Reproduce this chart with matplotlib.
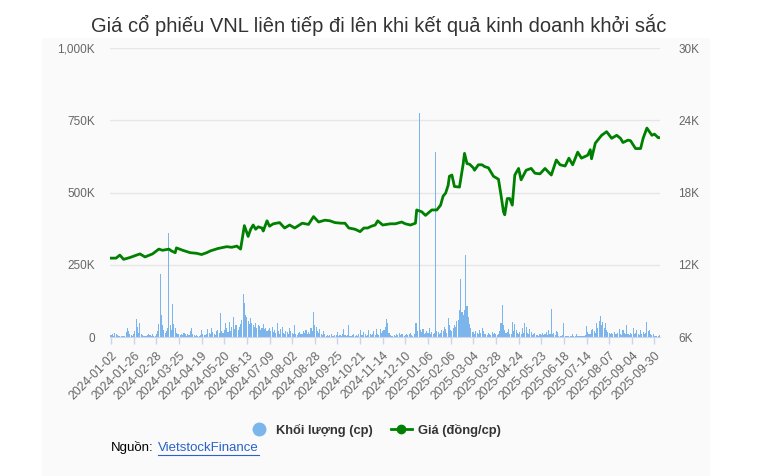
import numpy as np
import matplotlib
matplotlib.use("Agg")
import matplotlib.pyplot as plt
from matplotlib.lines import Line2D
from matplotlib.patches import Rectangle

plt.rcParams['font.family'] = ['Liberation Sans', 'DejaVu Sans']

title = "Giá cổ phiếu VNL liên tiếp đi lên khi kết quả kinh doanh khởi sắc"

date_labels = ["2024-01-02", "2024-01-26", "2024-02-28", "2024-03-25", "2024-04-19",
               "2024-05-20", "2024-06-13", "2024-07-09", "2024-08-02", "2024-08-28",
               "2024-09-25", "2024-10-21", "2024-11-14", "2024-12-10", "2025-01-06",
               "2025-02-06", "2025-03-04", "2025-03-28", "2025-04-24", "2025-05-23",
               "2025-06-18", "2025-07-14", "2025-08-07", "2025-09-04", "2025-09-30"]

# daily volume, thousand shares (18 sessions per row)
vol_k = [
    8, 12, 5, 14, 10, 6, 4, 3, 5, 2, 4, 3, 18, 30, 22, 12, 8, 4,
    10, 20, 61, 35, 15, 50, 12, 6, 4, 3, 5, 8, 12, 6, 4, 10, 3, 5,
    12, 20, 45, 218, 76, 40, 25, 15, 20, 30, 361, 40, 25, 114, 45, 30, 15, 10,
    12, 8, 10, 6, 14, 9, 5, 12, 8, 20, 30, 12, 6, 4, 8, 5, 3, 6,
    24, 10, 6, 8, 12, 27, 15, 10, 30, 18, 12, 8, 20, 25, 15, 82, 20, 14,
    25, 47, 30, 18, 53, 22, 35, 70, 28, 40, 42, 25, 35, 45, 60, 148, 118, 75,
    70, 55, 45, 66, 50, 40, 35, 48, 30, 42, 38, 25, 30, 45, 28, 32, 20, 25,
    30, 22, 35, 18, 25, 15, 47, 20, 12, 28, 36, 15, 10, 22, 18, 12, 32, 20,
    15, 10, 40, 12, 8, 15, 18, 10, 12, 20, 14, 25, 10, 18, 12, 30, 20, 88,
    40, 35, 20, 15, 27, 12, 8, 20, 10, 5, 8, 4, 6, 10, 5, 3, 8, 6,
    18, 5, 8, 4, 10, 27, 6, 4, 8, 40, 5, 3, 6, 10, 4, 8, 5, 12,
    25, 8, 6, 18, 10, 5, 8, 25, 12, 6, 10, 22, 8, 27, 10, 6, 27, 15,
    20, 25, 35, 61, 47, 15, 8, 5, 4, 6, 3, 12, 8, 14, 6, 10, 12, 5,
    8, 12, 6, 10, 14, 8, 5, 10, 50, 47, 20, 774, 25, 18, 27, 12, 15, 20,
    15, 30, 12, 18, 10, 15, 641, 20, 18, 10, 15, 25, 20, 36, 28, 15, 65, 40,
    25, 20, 30, 40, 35, 57, 60, 93, 200, 88, 75, 95, 284, 107, 70, 45, 30, 18,
    18, 12, 20, 15, 10, 25, 15, 30, 20, 12, 10, 8, 14, 10, 6, 18, 12, 15,
    10, 8, 12, 20, 50, 111, 40, 25, 15, 18, 27, 12, 10, 53, 20, 46, 25, 15,
    12, 18, 10, 30, 14, 50, 36, 15, 10, 27, 18, 8, 10, 15, 6, 8, 5, 10,
    8, 15, 6, 10, 18, 8, 25, 12, 96, 10, 15, 6, 22, 18, 5, 4, 3, 6,
    50, 4, 3, 2, 5, 3, 4, 10, 3, 2, 12, 4, 3, 2, 5, 3, 4, 8,
    38, 18, 12, 10, 25, 27, 20, 15, 47, 30, 57, 73, 40, 53, 30, 47, 25, 18,
    15, 10, 15, 12, 18, 10, 12, 15, 27, 12, 8, 25, 15, 10, 40, 12, 8, 15,
    10, 30, 12, 15, 25, 10, 8, 25, 12, 18, 10, 15, 53, 20, 25, 12, 8, 10,
    3, 2, 4, 3, 6,
]

# closing price (dong) at session index
price_idx = [0, 4, 7, 10, 15, 23, 27, 33, 38, 41,
             46, 48, 51, 52, 57, 63, 68, 72, 76, 79,
             85, 92, 96, 100, 103, 106, 109, 111, 113, 115,
             117, 120, 121, 124, 126, 129, 134, 138, 142, 146,
             152, 157, 161, 165, 170, 174, 178, 183, 186, 189,
             194, 198, 201, 204, 207, 210, 212, 216, 222, 226,
             231, 234, 238, 242, 243, 247, 250, 255, 259, 262,
             264, 266, 268, 269, 271, 273, 277, 280, 281, 283,
             285, 288, 289, 292, 295, 297, 300, 304, 308, 309,
             310, 312, 313, 315, 317, 319, 321, 324, 326, 330,
             334, 337, 341, 345, 350, 354, 357, 361, 364, 367,
             371, 374, 379, 381, 382, 385, 390, 394, 398, 402,
             405, 407, 411, 413, 417, 421, 423, 426, 430, 432,
             435, 436]
price_val = [12550, 12550, 12800, 12450, 12600, 12900, 12650, 12900, 13300, 13200,
             13300, 13150, 13000, 13400, 13200, 13000, 12950, 12850, 13000, 13150,
             13350, 13500, 13450, 13550, 13300, 15250, 14350, 14950, 15300, 14950,
             15150, 15050, 14800, 15650, 15200, 15400, 15500, 15050, 15300, 15050,
             15450, 15350, 16000, 15550, 15700, 15650, 15500, 15450, 15450, 15050,
             14950, 14750, 15050, 15050, 15200, 15300, 15650, 15300, 15400, 15400,
             15550, 15400, 15300, 15450, 16550, 16400, 16100, 16550, 16550, 16950,
             17700, 17950, 18600, 19350, 19450, 18500, 18450, 20400, 21250, 20400,
             20350, 20050, 19850, 20300, 20300, 20150, 20050, 19350, 19100, 18450,
             17800, 16400, 16150, 17500, 17500, 16950, 19450, 20000, 19050, 19850,
             20000, 19600, 19550, 20000, 19450, 20700, 20300, 20200, 20850, 20300,
             21350, 20850, 21100, 21550, 20800, 22100, 22750, 23050, 22500, 22750,
             22500, 22150, 22350, 22300, 21650, 21650, 22500, 23350, 22750, 22850,
             22550, 22550]

vol_ticks = [0, 250000, 500000, 750000, 1000000]
vol_tick_labels = ["0", "250K", "500K", "750K", "1,000K"]
price_ticks = [6000, 12000, 18000, 24000, 30000]
price_tick_labels = ["6K", "12K", "18K", "24K", "30K"]

volume = np.array(vol_k) * 1000
n = len(volume)
W, H = 765, 476

fig = plt.figure(figsize=(W / 100, H / 100), dpi=100)
fig.patch.set_facecolor('white')
fig.patches.append(Rectangle((42 / W, 0), (710 - 42) / W, (H - 38) / H,
                             transform=fig.transFigure, facecolor='#fafafa',
                             edgecolor='none', zorder=-10))

ax = fig.add_axes([110.4 / W, (H - 337) / H, 549.7 / W, 289 / H])
ax.set_facecolor('none')
ax.bar(np.arange(n), volume, width=0.85, color='#7cb5ec', linewidth=0, zorder=2,
       antialiased=False)
ax.set_xlim(-0.5, n - 0.5)
ax.set_ylim(0, 1000000)
ax.set_yticks(vol_ticks)
ax.set_yticklabels(vol_tick_labels)
ax.yaxis.grid(True, color='#e6e6e6', linewidth=1)
ax.set_axisbelow(True)
ax.tick_params(axis='y', length=0, pad=11, labelsize=8.5, labelcolor='#666666')
ax.set_xticks(np.arange(0, n, 18)[:len(date_labels)])
ax.set_xticklabels(date_labels, rotation=45, ha='right', rotation_mode='anchor')
ax.tick_params(axis='x', length=5, color='#ccd6eb', width=1, pad=4,
               labelsize=8.8, labelcolor='#666666')
for s in ['top', 'left', 'right']:
    ax.spines[s].set_visible(False)
ax.spines['bottom'].set_color('#ccd6eb')

ax2 = ax.twinx()
ax2.plot(price_idx, price_val, color='#008000', linewidth=2.0, zorder=3,
         solid_joinstyle='round')
ax2.set_ylim(6000, 30000)
ax2.set_yticks(price_ticks)
ax2.set_yticklabels(price_tick_labels)
ax2.tick_params(axis='y', length=0, pad=13, labelsize=8.5, labelcolor='#666666')
for s in ['top', 'left', 'right', 'bottom']:
    ax2.spines[s].set_visible(False)

fig.text(379 / W, 1 - 25 / H, title, ha='center', va='center', fontsize=14.5, color='#333333')

handles = [Line2D([], [], marker='o', color='#7cb5ec', linestyle='none', markersize=9),
           Line2D([], [], marker='o', color='#008000', linewidth=2, markersize=6)]
fig.legend(handles, ["Khối lượng (cp)", "Giá (đồng/cp)"], loc='center',
           bbox_to_anchor=(375 / W, 1 - 430 / H), ncol=2, frameon=False,
           prop={'weight': 'bold', 'size': 9.3}, labelcolor='#333333',
           handlelength=1.6, handletextpad=0.5, columnspacing=1.4)

fig.text(111 / W, 1 - 448 / H, "Nguồn:", fontsize=9.5, va='center', color='black')
link = fig.text(158 / W, 1 - 448 / H, "VietstockFinance", fontsize=9.5, va='center',
                color='#2a62c9')
fig.canvas.draw()
bb = link.get_window_extent()
fig.lines.append(Line2D([bb.x0 / W, bb.x1 / W], [(bb.y0 - 1) / H, (bb.y0 - 1) / H],
                        transform=fig.transFigure, color='#2a62c9', linewidth=0.8))

fig.savefig('out.png', dpi=100)
